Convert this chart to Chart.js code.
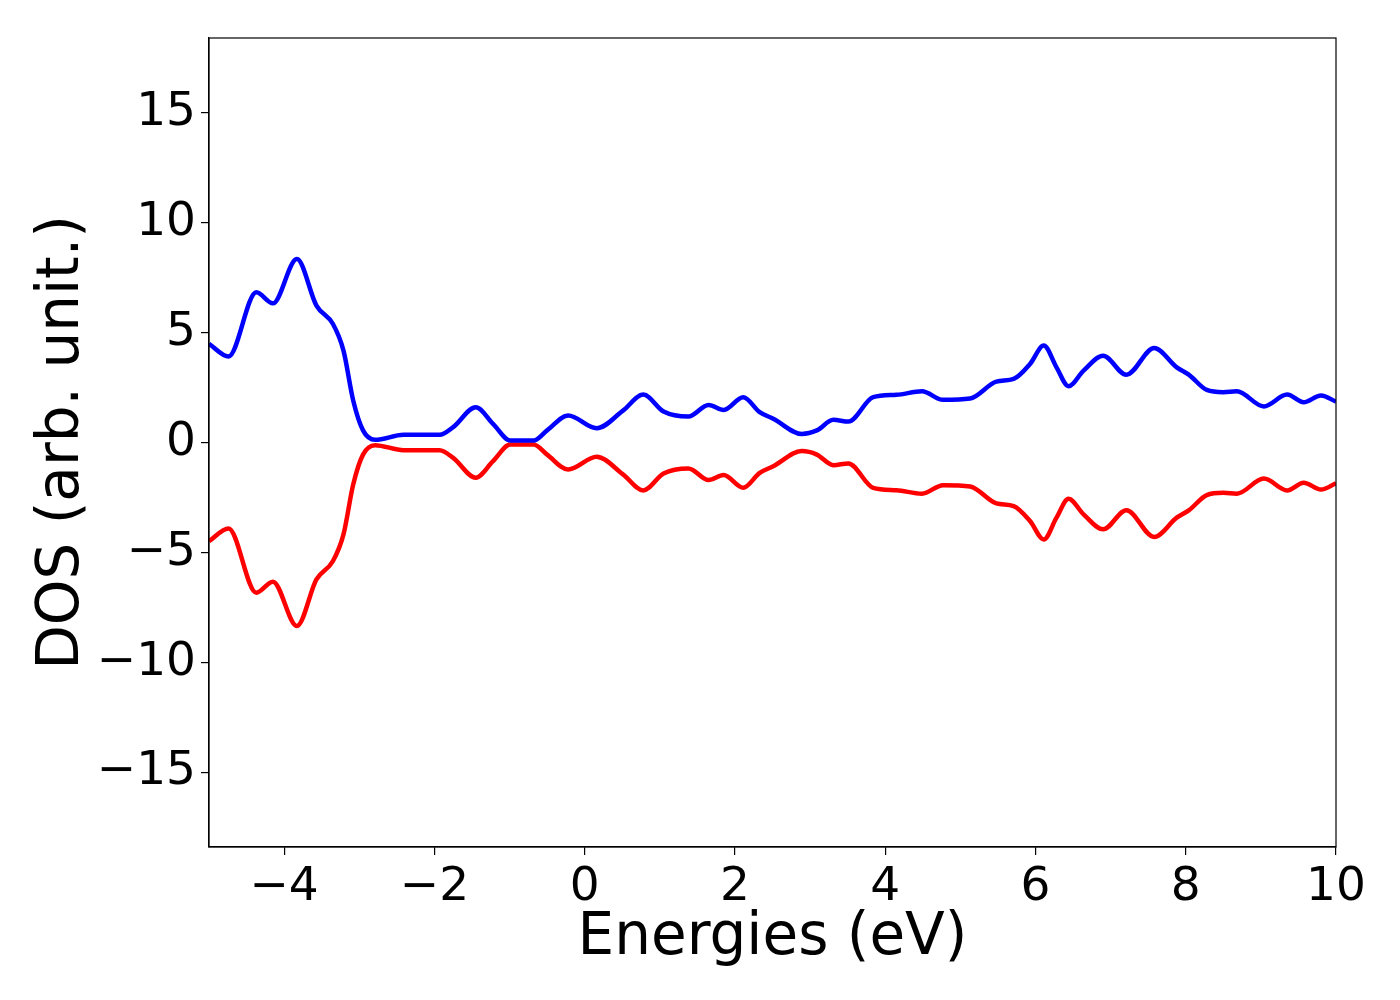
<!DOCTYPE html>
<html>
<head>
<meta charset="utf-8">
<script src="https://cdn.jsdelivr.net/npm/chart.js@4/dist/chart.umd.min.js"></script>
<style>
  html, body { margin: 0; padding: 0; background: #fff; }
  #wrap { width: 1400px; height: 1000px; }
</style>
</head>
<body>
<div id="wrap"><canvas id="dos"></canvas></div>
<script>
// Energies (eV)
const energies = [-5.0, -4.74, -4.37, -4.15, -3.83, -3.57, -3.35, -3.21, -3.08, -2.95, -2.79,
  -2.41, -1.93, -1.75, -1.45, -1.22, -0.99, -0.68, -0.5, -0.22, 0.16, 0.51, 0.78, 1.05, 1.38,
  1.65, 1.85, 2.11, 2.33, 2.51, 2.89, 3.09, 3.31, 3.51, 3.84, 4.15, 4.49, 4.77, 5.13, 5.48,
  5.71, 5.93, 6.11, 6.28, 6.44, 6.64, 6.9, 7.21, 7.58, 7.88, 8.04, 8.28, 8.5, 8.68, 9.04,
  9.35, 9.57, 9.8, 10.0];

// spin up (blue)
const dosUp = [4.49, 3.91, 6.83, 6.33, 8.35, 6.23, 5.39, 4.18, 1.9, 0.55, 0.12,
  0.35, 0.35, 0.7, 1.6, 0.85, 0.09, 0.09, 0.55, 1.23, 0.65, 1.45, 2.18, 1.41, 1.18,
  1.71, 1.48, 2.06, 1.38, 1.08, 0.39, 0.55, 1.03, 0.95, 2.06, 2.17, 2.33, 1.94, 2.0, 2.77,
  2.89, 3.58, 4.41, 3.42, 2.56, 3.27, 3.95, 3.08, 4.3, 3.42, 3.09, 2.39, 2.29, 2.33, 1.64,
  2.18, 1.83, 2.14, 1.86];

// spin down (red)
const dosDown = [-4.49, -3.91, -6.83, -6.33, -8.35, -6.23, -5.39, -4.18, -1.9, -0.55, -0.12,
  -0.35, -0.35, -0.7, -1.6, -0.85, -0.09, -0.09, -0.55, -1.23, -0.65, -1.45, -2.18, -1.41, -1.18,
  -1.71, -1.48, -2.06, -1.38, -1.08, -0.39, -0.55, -1.03, -0.95, -2.06, -2.17, -2.33, -1.94, -2.0, -2.77,
  -2.89, -3.58, -4.41, -3.42, -2.56, -3.27, -3.95, -3.08, -4.3, -3.42, -3.09, -2.39, -2.29, -2.33, -1.64,
  -2.18, -1.83, -2.14, -1.86];

const xTicks = [-4, -2, 0, 2, 4, 6, 8, 10];
const yTicks = [-15, -10, -5, 0, 5, 10, 15];

const toPoints = (ys) => energies.map((e, i) => ({ x: e, y: ys[i] }));
const minus = (v) => String(v).replace("-", "\u2212");

// cadre complet autour de la zone du graphique
const frame = {
  id: "frame",
  afterDraw(chart) {
    const { ctx, chartArea: a } = chart;
    ctx.save();
    ctx.strokeStyle = "#000";
    ctx.lineWidth = 1.2;
    ctx.strokeRect(a.left, a.top, a.right - a.left, a.bottom - a.top);
    ctx.restore();
  }
};

Chart.defaults.font.family = "'DejaVu Sans', sans-serif";
Chart.defaults.color = "#000";

new Chart(document.getElementById("dos"), {
  type: "scatter",
  data: {
    datasets: [
      { data: toPoints(dosUp), borderColor: "#0000ff", showLine: true, borderWidth: 4.5,
        pointRadius: 0, cubicInterpolationMode: "monotone" },
      { data: toPoints(dosDown), borderColor: "#ff0000", showLine: true, borderWidth: 4.5,
        pointRadius: 0, cubicInterpolationMode: "monotone" }
    ]
  },
  options: {
    responsive: true,
    maintainAspectRatio: false,
    animation: false,
    layout: { padding: { top: 38, right: 64, left: 0, bottom: 0 } },
    plugins: { legend: { display: false }, tooltip: { enabled: false } },
    scales: {
      x: {
        type: "linear",
        min: -5,
        max: 10,
        afterBuildTicks: (s) => { s.ticks = xTicks.map(v => ({ value: v })); },
        afterFit: (s) => { s.height = 153; },
        ticks: { font: { size: 47 }, padding: 5, callback: (v) => minus(v) },
        grid: { drawOnChartArea: false, drawTicks: true, tickLength: 8, color: "#000", lineWidth: 1.2 },
        border: { display: true, color: "#000", width: 1.2 },
        title: { display: true, text: "Energies (eV)", font: { size: 58 }, padding: { top: 0, bottom: 26 } }
      },
      y: {
        type: "linear",
        min: -18.4,
        max: 18.4,
        afterBuildTicks: (s) => { s.ticks = yTicks.map(v => ({ value: v })); },
        afterFit: (s) => { s.width = 209; },
        ticks: { font: { size: 47 }, padding: 5, callback: (v) => minus(v) },
        grid: { drawOnChartArea: false, drawTicks: true, tickLength: 8, color: "#000", lineWidth: 1.2 },
        border: { display: true, color: "#000", width: 1.2 },
        title: { display: true, text: "DOS (arb. unit.)", font: { size: 58 }, padding: { top: 28, bottom: 0 } }
      }
    }
  },
  plugins: [frame]
});
</script>
</body>
</html>
